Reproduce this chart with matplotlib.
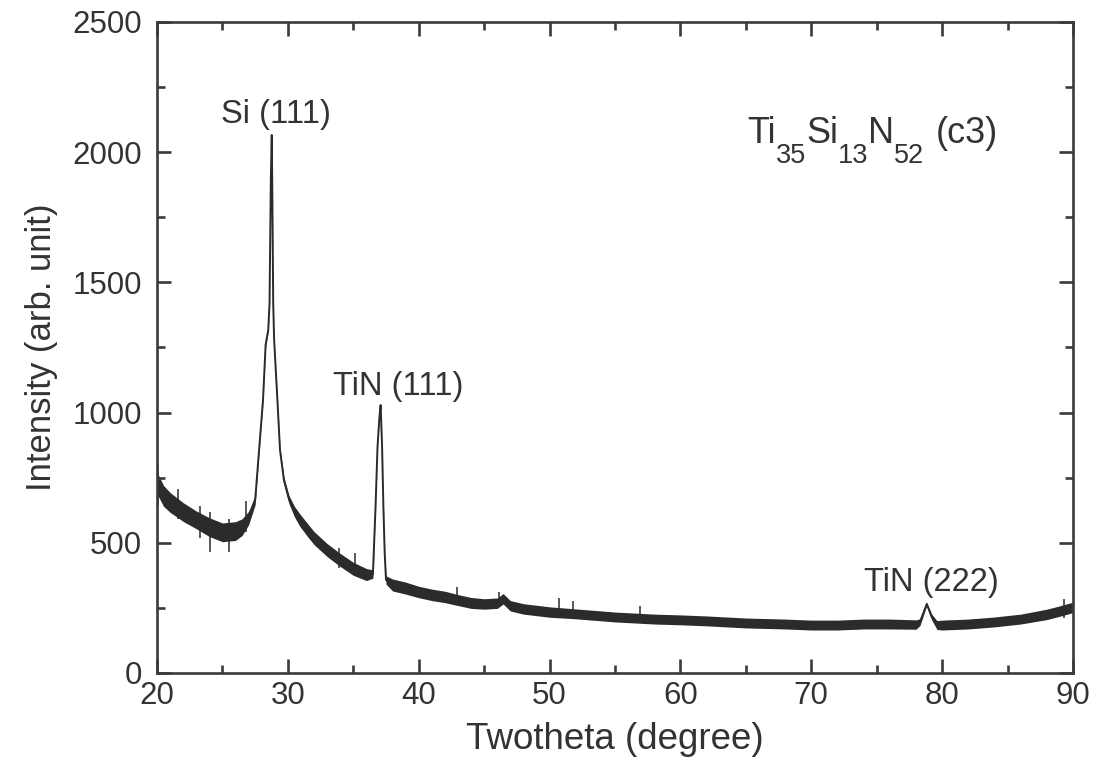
import matplotlib
matplotlib.use("Agg")
import matplotlib.pyplot as plt
from matplotlib.transforms import ScaledTranslation
import numpy as np

plt.rcParams['font.family'] = ['Liberation Sans', 'DejaVu Sans']

# XRD trace: 2-theta position, mean intensity and half-width of the noise band
two_theta = [20.0, 20.5, 21.0, 22.0, 23.0, 24.0, 25.0, 26.0, 26.5, 27.0, 27.5,
             27.8, 28.1, 28.3, 28.5, 28.6, 28.7, 28.77, 28.82, 28.88, 28.95,
             29.2, 29.4, 29.7, 30.1, 30.5, 30.9, 31.5, 32.0, 33.0, 34.0, 35.0,
             36.0, 36.5, 36.7, 36.85, 37.0, 37.09, 37.2, 37.3, 37.4, 37.5,
             38.0, 39.0, 40.0, 41.0, 42.0, 43.0, 44.0, 45.0, 46.0, 46.45, 47.0,
             48.0, 50.0, 52.0, 55.0, 58.0, 60.0, 62.0, 65.0, 68.0, 70.0, 72.0,
             74.0, 76.0, 78.0, 78.3, 78.82, 79.2, 79.6, 80.0, 82.0, 84.0, 86.0,
             88.0, 89.0, 90.0]
intensity = [730, 680, 655, 618, 588, 560, 540, 545, 560, 595, 664,
             856, 1048, 1260, 1317, 1420, 1900, 2066, 1800, 1420, 1280,
             1048, 856, 740, 664, 620, 588, 549, 518, 472, 434, 400,
             378, 380, 638, 869, 984, 1029, 870, 638, 459, 357,
             338, 326, 311, 300, 292, 280, 269, 265, 268, 285, 258,
             246, 234, 227, 215, 207, 204, 200, 192, 188, 184, 184,
             188, 188, 186, 195, 265, 215, 184, 184, 188, 196, 207,
             225, 238, 252]
noise = [42, 40, 38, 36, 34, 36, 36, 36, 32, 26, 18,
         8, 6, 6, 5, 3, 2, 2, 2, 3, 5,
         6, 8, 12, 16, 20, 24, 25, 25, 25, 25, 25,
         23, 16, 5, 4, 3, 2, 4, 5, 8, 16,
         23, 23, 22, 22, 22, 21, 21, 20, 20, 20, 20,
         20, 20, 19, 19, 19, 19, 19, 19, 19, 19, 19,
         19, 19, 18, 13, 6, 11, 17, 19, 19, 19, 19,
         20, 20, 20]

# isolated count spikes standing out of the noise band
spike_pos = [20.05, 21.6, 23.3, 24.05, 25.5, 26.8,
             33.9, 35.13, 42.9, 46.1, 50.7, 51.8, 56.9, 89.3]
spike_low = [640, 590, 520, 466, 466, 540,
             405, 380, 262, 255, 215, 208, 192, 212]
spike_high = [800, 705, 640, 620, 590, 660,
              480, 461, 331, 312, 288, 276, 257, 285]

peak_labels = ["Si (111)", "TiN (111)", "TiN (222)"]
label_pos = [29.1, 38.4, 79.15]
label_height = [2143, 1102, 346]

# sample composition, written as (text, is_subscript) pieces
composition = [("Ti", False), ("35", True), ("Si", False), ("13", True),
               ("N", False), ("52", True), ("(c3)", False)]

ink = '#2b2b2b'
txt_color = '#333333'

fig = plt.figure(figsize=(11.01, 7.79), dpi=100)
ax = fig.add_axes([0.1426, 0.1361, 0.8320, 0.8357])

x = np.array(two_theta)
y = np.array(intensity)
dy = np.array(noise)
ax.fill_between(x, y - dy, y + dy, color=ink, linewidth=0)
ax.plot(x, y, color=ink, linewidth=1.4)
ax.vlines(spike_pos, spike_low, spike_high, color=ink, linewidth=1.1)

ax.set_xlim(20, 90)
ax.set_ylim(0, 2500)
ax.set_xticks(np.arange(20, 91, 10))
ax.set_xticks(np.arange(25, 90, 10), minor=True)
ax.set_yticks(np.arange(0, 2501, 500))
ax.set_yticks(np.arange(250, 2500, 500), minor=True)

for s in ax.spines.values():
    s.set_linewidth(1.9)
    s.set_color('#3a3a3a')
ax.tick_params(which='both', direction='in', top=True, right=True,
               color='#3a3a3a', width=1.9, labelcolor=txt_color)
ax.tick_params(which='major', length=10, labelsize=22.5)
ax.tick_params(which='minor', length=6)
ax.tick_params(axis='x', pad=6)
ax.tick_params(axis='y', pad=11)

ax.set_xlabel('Twotheta (degree)', fontsize=26.5, color=txt_color, labelpad=8)
ax.set_ylabel('Intensity (arb. unit)', fontsize=25, color=txt_color, labelpad=10)

for txt, px, py in zip(peak_labels, label_pos, label_height):
    ax.text(px, py, txt, fontsize=23.5, color=txt_color, ha='center', va='center')

# composition label built piece by piece so the subscripts sit low
renderer = fig.canvas.get_renderer()
offset_pt = 0.0
for piece, is_sub in composition:
    if piece.startswith("("):
        offset_pt += 8
    size = 19.5 if is_sub else 26
    drop = -14.5 if is_sub else 0.0
    tr = ax.transData + ScaledTranslation(offset_pt / 72, drop / 72, fig.dpi_scale_trans)
    t = ax.text(65.1, 2036, piece, fontsize=size, color=txt_color,
                ha='left', va='baseline', transform=tr)
    offset_pt += t.get_window_extent(renderer).width * 72 / fig.dpi

fig.savefig('out.png', dpi=100)
